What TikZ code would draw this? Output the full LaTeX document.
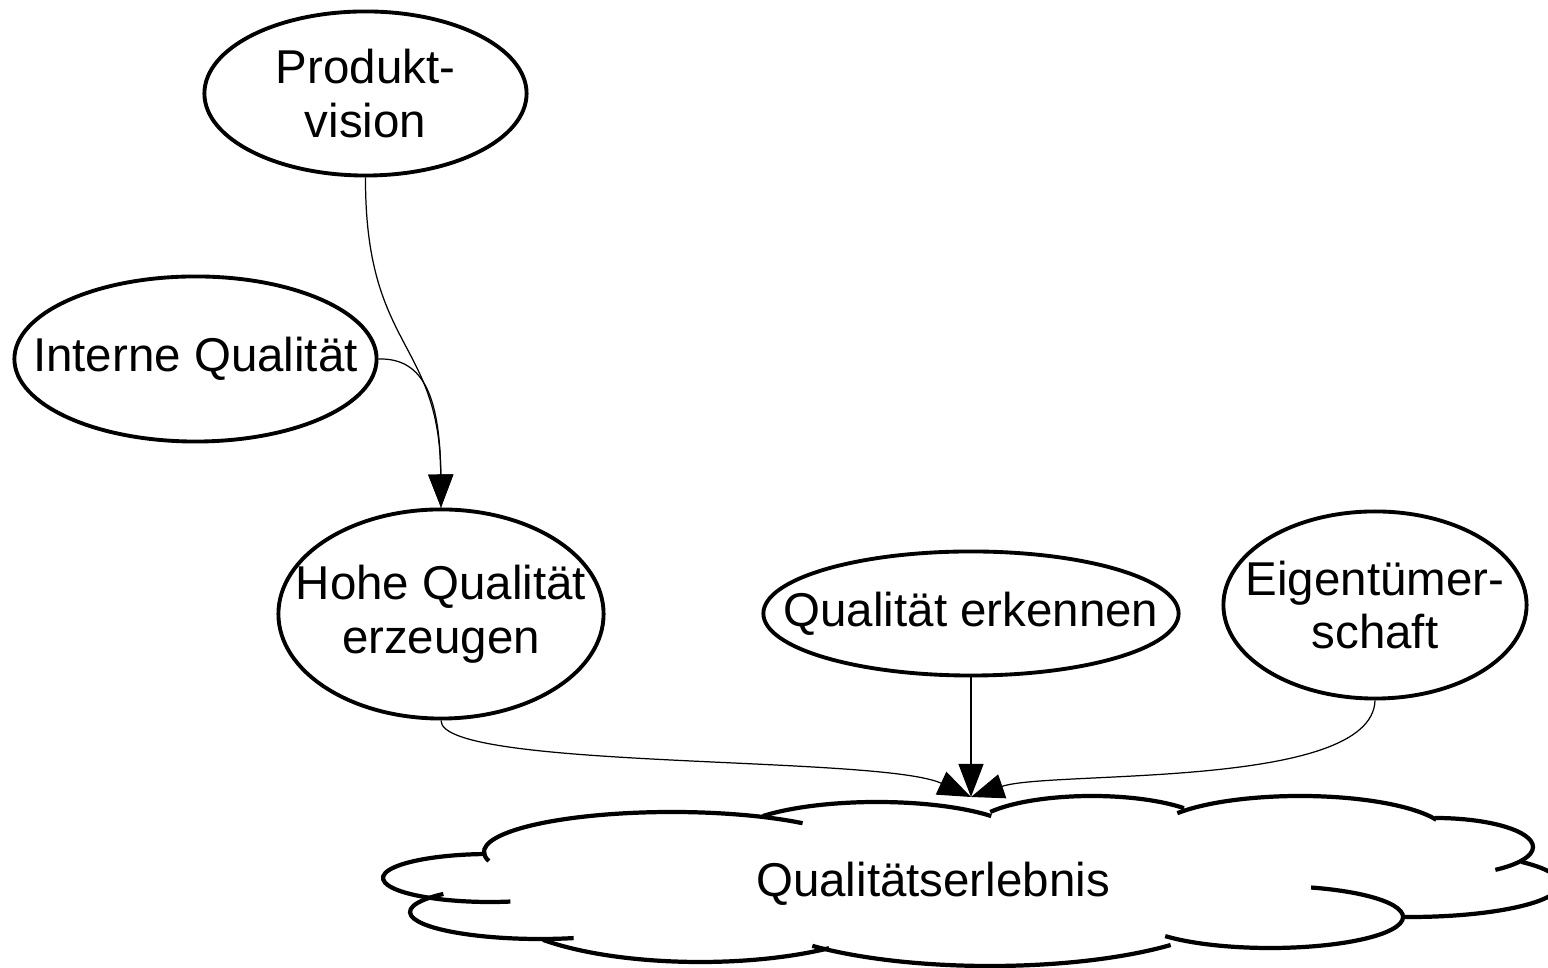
\documentclass[tikz,border=0pt]{standalone}
\usepackage{fontspec}
\setmainfont{Liberation Sans}
\usetikzlibrary{shapes.geometric}
\usetikzlibrary{arrows.meta}

\newcommand\cloudlobe[6]{%
  \draw[lobe] (#1,#2) ++(#5:#3 and #4)
    arc[start angle=#5, end angle=#6, x radius=#3, y radius=#4];}

\begin{document}
\begin{tikzpicture}[x=0.01cm, y=-0.01cm,
            font=\fontsize{13.5pt}{15.3pt}\selectfont,
            ell/.style = {draw, ellipse, line width=1.1pt, inner sep=0pt},
            txt/.style = {align=center},
            conn/.style = {-{Triangle[length=3.3mm,width=2.5mm]}, line width=0.35pt},
            lobe/.style = {line width=1.2pt}]
            \useasboundingbox (0,0) rectangle (1548,968);
            \node[ell, minimum width=3.22cm, minimum height=1.64cm,
                label={[txt]center:Produkt-\\vision}] (pv) at (365.5,93.5) {};
            \node[ell, minimum width=3.62cm, minimum height=1.65cm,
                label={[txt]center:Interne Qualität}] (iq) at (195.5,359) {};
            \node[ell, minimum width=3.25cm, minimum height=2.09cm,
                label={[txt]center:Hohe Qualität\\erzeugen}] (hq) at (441,614) {};
            \node[ell, minimum width=4.15cm, minimum height=1.24cm,
                label={[txt]center:Qualität erkennen}] (qe) at (971,613.5) {};
            \node[ell, minimum width=3.03cm, minimum height=1.87cm,
                label={[txt]center:Eigentümer-\\schaft}] (et) at (1375,605) {};
            % cloud
            \cloudlobe{672}{852}{188}{40}{167}{314}
            \cloudlobe{877}{840}{147}{38}{219}{321}
            \cloudlobe{1092}{830}{120}{34}{212}{320}
            \cloudlobe{1300}{835}{148}{39}{214}{337}
            \cloudlobe{1435}{847}{98}{29}{270}{412}
            \cloudlobe{1410}{884}{150}{33}{318}{453}
            \cloudlobe{1270}{917}{133}{31}{288}{502}
            \cloudlobe{990}{900}{247}{66}{43}{136}
            \cloudlobe{700}{900}{205}{62}{51}{140}
            \cloudlobe{540}{912}{130}{27}{75}{222}
            \cloudlobe{490}{878}{107}{24}{79}{268}
            \node[txt] (qerl) at (933,884) {Qualitätserlebnis};
            \coordinate (cltop) at (971,797);
            \draw[conn] (pv.south) .. controls (365,350) and (440,340) .. (hq.north);
            \draw[conn] (iq.east) .. controls (420,358) and (440,390) .. (hq.north);
            \draw[conn] (hq.south) .. controls (440,770) and (880,755) .. (cltop);
            \draw[conn] (qe.south) -- (cltop);
            \draw[conn] (et.south) .. controls (1372,790) and (1050,770) .. (cltop);
\end{tikzpicture}
\end{document}
